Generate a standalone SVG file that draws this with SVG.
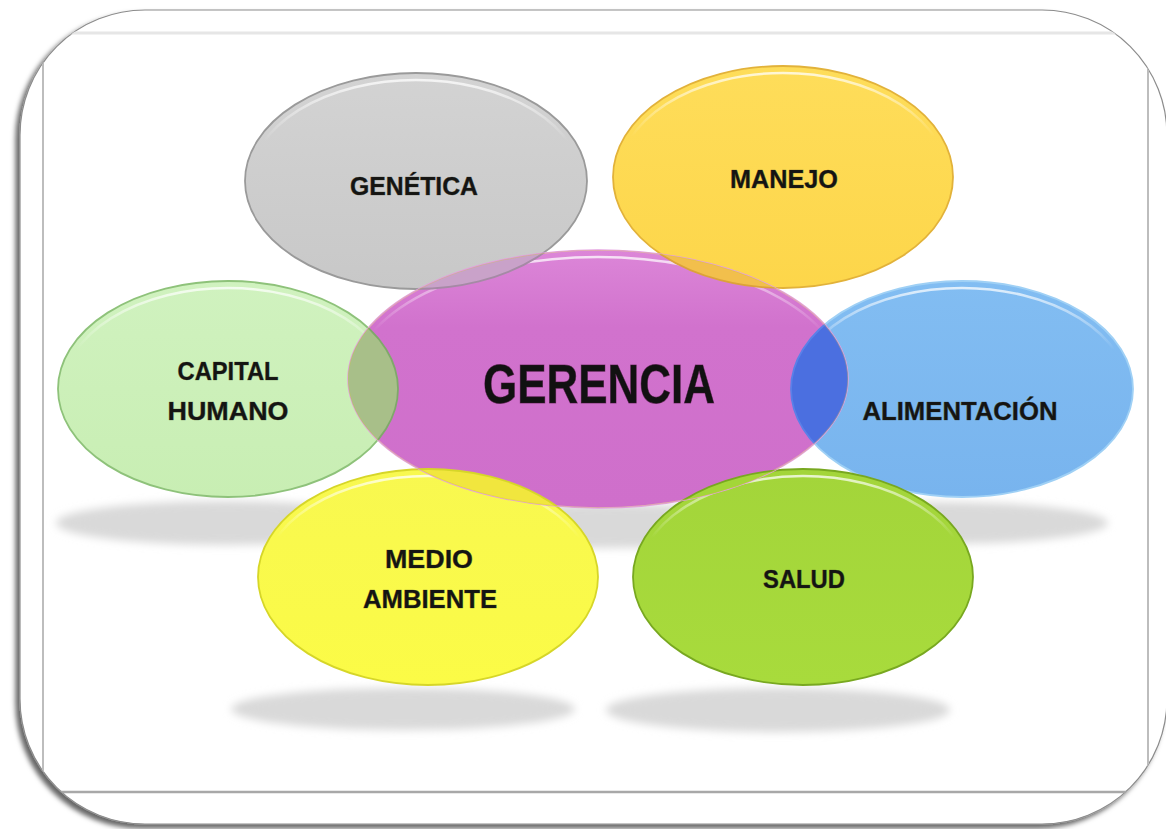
<svg xmlns="http://www.w3.org/2000/svg" width="1166" height="829" viewBox="0 0 1166 829">
<style>
.lbl{font-family:"Liberation Sans","DejaVu Sans",sans-serif;font-weight:700;font-size:26px;fill:#141414;text-anchor:middle;stroke:#2a2a10;stroke-width:0.7;stroke-opacity:0.55}
.big{font-family:"Liberation Sans Narrow","Liberation Sans",sans-serif;font-weight:700;font-size:55px;fill:#111;text-anchor:middle;stroke:#3a1030;stroke-width:0.9;stroke-opacity:0.55}
.hl{fill:none;stroke:url(#hlg);stroke-width:2.5}
.shd{fill:#d9d9d9;filter:url(#blur)}
</style>
<defs>
<filter id="frameShadow" x="-5%" y="-5%" width="110%" height="110%">
<feDropShadow dx="-4" dy="4" stdDeviation="2.5" flood-color="#000" flood-opacity="0.6"/>
</filter>
<filter id="blur" x="-20%" y="-100%" width="140%" height="300%">
<feGaussianBlur stdDeviation="4"/>
</filter>
<clipPath id="frameClip"><rect x="20" y="10" width="1147" height="814" rx="125" ry="125"/></clipPath>
<clipPath id="pinkClip"><ellipse cx="598" cy="379" rx="250" ry="129"/></clipPath>
<linearGradient id="hlg" x1="0" y1="0" x2="0" y2="1">
<stop offset="0" stop-color="#fff" stop-opacity="0.75"/>
<stop offset="0.3" stop-color="#fff" stop-opacity="0"/>
</linearGradient>
<linearGradient id="gGray" x1="0" y1="0" x2="0" y2="1"><stop offset="0" stop-color="#d3d3d3"/><stop offset="1" stop-color="#c8c8c8"/></linearGradient>
<linearGradient id="gGold" x1="0" y1="0" x2="0" y2="1"><stop offset="0" stop-color="#fedd5a"/><stop offset="1" stop-color="#fdd64a"/></linearGradient>
<linearGradient id="gPink" x1="0" y1="0" x2="0" y2="1"><stop offset="0" stop-color="#dc86d8"/><stop offset="0.3" stop-color="#d172cd"/><stop offset="1" stop-color="#cf6fcb"/></linearGradient>
<linearGradient id="gLgreen" x1="0" y1="0" x2="0" y2="1"><stop offset="0" stop-color="#d0f2bf"/><stop offset="1" stop-color="#c8eeb3"/></linearGradient>
<linearGradient id="gBlue" x1="0" y1="0" x2="0" y2="1"><stop offset="0" stop-color="#82bdf2"/><stop offset="1" stop-color="#78b4ee"/></linearGradient>
<linearGradient id="gYellow" x1="0" y1="0" x2="0" y2="1"><stop offset="0" stop-color="#f8f850"/><stop offset="1" stop-color="#fbfb46"/></linearGradient>
<linearGradient id="gGreen" x1="0" y1="0" x2="0" y2="1"><stop offset="0" stop-color="#a3d53a"/><stop offset="1" stop-color="#a8db3c"/></linearGradient>
</defs>

<rect width="1166" height="829" fill="#fff"/>

<g id="frame">
<rect x="20" y="10" width="1147" height="814" rx="125" ry="125" fill="#fff" stroke="#8c8c8c" stroke-width="1.2" filter="url(#frameShadow)"/>
<g clip-path="url(#frameClip)">
<line x1="20" y1="33" x2="1148" y2="33" stroke="#e6e6e6" stroke-width="3"/>
<line x1="43" y1="33" x2="43" y2="792" stroke="#bdbdbd" stroke-width="2"/>
<line x1="1148" y1="33" x2="1148" y2="792" stroke="#bdbdbd" stroke-width="2"/>
<line x1="20" y1="792" x2="1167" y2="792" stroke="#a8a8a8" stroke-width="2.5"/>
</g>
</g>

<g id="shadows">
<ellipse class="shd" cx="226" cy="523" rx="170" ry="22"/>
<ellipse class="shd" cx="598" cy="526" rx="240" ry="22"/>
<ellipse class="shd" cx="938" cy="523" rx="170" ry="21"/>
<ellipse class="shd" cx="403" cy="709" rx="172" ry="21"/>
<ellipse class="shd" cx="778" cy="710" rx="172" ry="22"/>
</g>

<g id="connectors"></g>

<g id="node-genetica">
<ellipse cx="416" cy="181" rx="171" ry="108" fill="url(#gGray)" stroke="#9a9a9a" stroke-width="1.8"/>
<ellipse class="hl" cx="416" cy="183" rx="166" ry="103"/>
<text class="lbl" x="414" y="195" textLength="128" lengthAdjust="spacingAndGlyphs">GENÉTICA</text>
</g>

<g id="node-manejo">
<ellipse cx="783" cy="177" rx="170" ry="111" fill="url(#gGold)" stroke="#e2b23a" stroke-width="1.8"/>
<ellipse class="hl" cx="783" cy="179" rx="165" ry="106"/>
<text class="lbl" x="784" y="188" textLength="108" lengthAdjust="spacingAndGlyphs">MANEJO</text>
</g>

<g id="node-capital-humano">
<ellipse cx="228" cy="389" rx="170" ry="108" fill="url(#gLgreen)" stroke="#8ec27a" stroke-width="1.8"/>
<ellipse class="hl" cx="228" cy="391" rx="165" ry="103"/>
<text class="lbl" x="228" y="380" textLength="101" lengthAdjust="spacingAndGlyphs">CAPITAL</text>
<text class="lbl" x="228" y="420" textLength="121" lengthAdjust="spacingAndGlyphs">HUMANO</text>
</g>

<g id="node-alimentacion">
<ellipse cx="962" cy="389" rx="171" ry="108" fill="url(#gBlue)" stroke="#9fd0f5" stroke-width="1.8"/>
<ellipse class="hl" cx="962" cy="391" rx="166" ry="103"/>
<text class="lbl" x="960" y="420" textLength="195" lengthAdjust="spacingAndGlyphs">ALIMENTACIÓN</text>
</g>

<g id="node-medio-ambiente">
<ellipse cx="428" cy="577" rx="170" ry="108" fill="url(#gYellow)" stroke="#d6d628" stroke-width="1.8"/>
<ellipse class="hl" cx="428" cy="579" rx="165" ry="103"/>
<text class="lbl" x="429" y="568" textLength="88" lengthAdjust="spacingAndGlyphs">MEDIO</text>
<text class="lbl" x="430" y="608" textLength="134" lengthAdjust="spacingAndGlyphs">AMBIENTE</text>
</g>

<g id="node-salud">
<ellipse cx="803" cy="577" rx="170" ry="108" fill="url(#gGreen)" stroke="#78a820" stroke-width="1.8"/>
<ellipse class="hl" cx="803" cy="579" rx="165" ry="103"/>
<text class="lbl" x="804" y="588" textLength="82" lengthAdjust="spacingAndGlyphs">SALUD</text>
</g>

<g id="node-gerencia">
<ellipse cx="598" cy="379" rx="250" ry="129" fill="url(#gPink)" stroke="#e49fe0" stroke-width="1.5"/>
<ellipse class="hl" cx="598" cy="381" rx="245" ry="124"/>
</g>

<g id="overlaps" clip-path="url(#pinkClip)">
<ellipse cx="416" cy="181" rx="171" ry="108" fill="#c9a2c9" stroke="#a58aa5" stroke-width="1.8"/>
<ellipse cx="783" cy="177" rx="170" ry="111" fill="#f2bf4c" stroke="#dca23a" stroke-width="1.8"/>
<ellipse cx="228" cy="389" rx="170" ry="108" fill="#a8bf89" stroke="#7fa86a" stroke-width="1.8"/>
<ellipse cx="962" cy="389" rx="171" ry="108" fill="#4b6fe0" stroke="#5a80e8" stroke-width="1.8"/>
<ellipse cx="428" cy="577" rx="170" ry="108" fill="#f1e63e" stroke="#d6d628" stroke-width="1.8"/>
<ellipse cx="803" cy="577" rx="170" ry="108" fill="#a3d638" stroke="#78a820" stroke-width="1.8"/>
<ellipse cx="598" cy="379" rx="250" ry="129" fill="none" stroke="#d8c840" stroke-opacity="0.35" stroke-width="1.5"/>
</g>

<g id="label-gerencia">
<text class="big" x="599" y="403" textLength="232" lengthAdjust="spacingAndGlyphs">GERENCIA</text>
</g>
</svg>
